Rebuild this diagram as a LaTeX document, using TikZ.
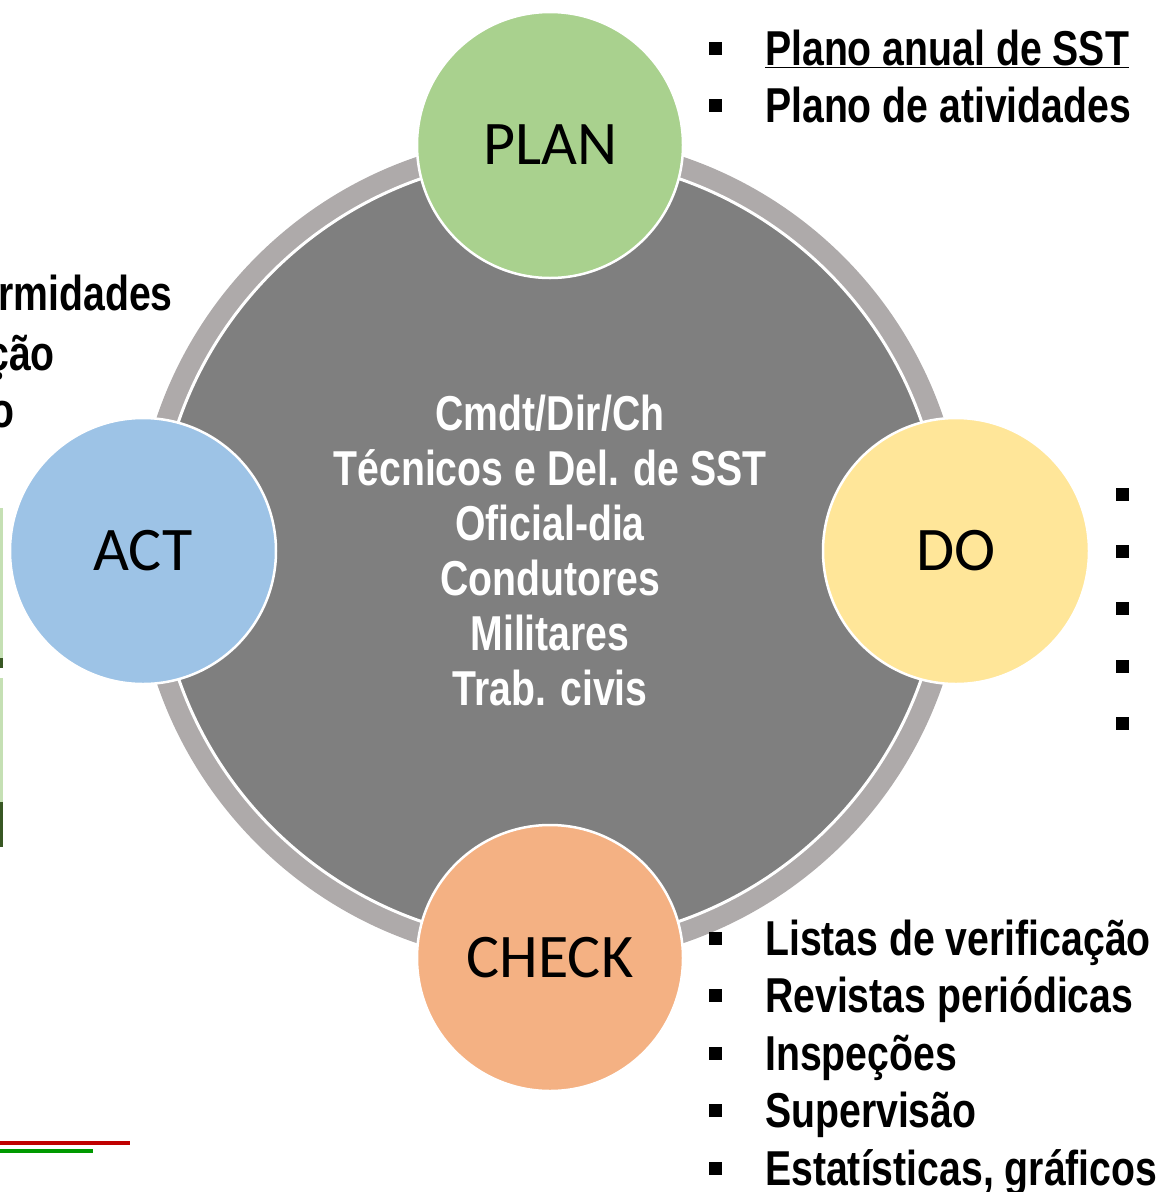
\documentclass[tikz,border=0pt]{standalone}
\usepackage{fontspec}
\setmainfont{Liberation Sans}
\newfontfamily\narrowfont[FakeStretch=0.8]{Liberation Sans}
\newfontfamily\stagefont{Carlito}
\usetikzlibrary{positioning}

\definecolor{ringgray}{HTML}{AEAAAA}
\definecolor{hubgray}{HTML}{7F7F7F}
\definecolor{plangreen}{HTML}{A9D18E}
\definecolor{doyellow}{HTML}{FFE699}
\definecolor{checkorange}{HTML}{F4B183}
\definecolor{actblue}{HTML}{9DC3E6}
\definecolor{barlight}{HTML}{C5E0B4}
\definecolor{bardark}{HTML}{385723}
\definecolor{linered}{HTML}{C00000}
\definecolor{linegreen}{HTML}{009900}

\tikzset{
  stage/.style={circle, draw=white, line width=2.5pt, minimum size=266pt, inner sep=0pt,
    font=\stagefont\fontsize{62}{62}\selectfont},
  listitem/.style={anchor=base west, inner sep=0pt,
    font=\narrowfont\bfseries\fontsize{49}{57}\selectfont},
  sqbullet/.style={rectangle, fill=black, minimum size=13pt, inner sep=0pt},
}
\newcommand{\sqb}{\makebox[56pt][l]{\raisebox{10pt}{\rule{13pt}{13pt}}}}

\begin{document}
\begin{tikzpicture}[x=1pt, y=-1pt]
        \useasboundingbox (0,0) rectangle (1162,1192);
        \clip (0,0) rectangle (1162,1192);

        % Ring and centre
        \node[circle, fill=ringgray, minimum size=830pt, inner sep=0pt] (ring) at (550,550) {};
        \node[circle, fill=hubgray, draw=white, line width=3pt, minimum size=786pt, inner sep=0pt,
              text=white, align=center, font=\narrowfont\bfseries\fontsize{49}{55}\selectfont] (hub) at (550,550)
              {Cmdt/Dir/Ch\\Técnicos e Del. de SST\\Oficial-dia\\Condutores\\Militares\\Trab. civis};

        % Stages
        \node[stage, fill=plangreen] (plan) at (550,145) {PLAN};
        \node[stage, fill=doyellow] (do) at (956,551) {DO};
        \node[stage, fill=checkorange] (check) at (550,958) {CHECK};
        \node[stage, fill=actblue] (act) at (143,551) {ACT};

        % PLAN list
        \node[listitem] (plan1) at (709,65) {\sqb\underline{Plano anual de SST}};
        \node[listitem] (plan2) at (709,122) {\sqb Plano de atividades};

        % DO list
        \node[sqbullet] (do1) at (1122.5,494) {};
        \node[sqbullet] (do2) at (1122.5,551) {};
        \node[sqbullet] (do3) at (1122.5,608) {};
        \node[sqbullet] (do4) at (1122.5,666) {};
        \node[sqbullet] (do5) at (1122.5,723) {};

        % CHECK list
        \node[listitem] (check1) at (709,955) {\sqb Listas de verificação};
        \node[listitem] (check2) at (709,1012) {\sqb Revistas periódicas};
        \node[listitem] (check3) at (709,1070) {\sqb Inspeções};
        \node[listitem] (check4) at (709,1127) {\sqb Supervisão};
        \node[listitem] (check5) at (709,1185) {\sqb Estatísticas, gráficos};

        % ACT list
        \node[listitem, anchor=base east] (act1) at (173,310) {rmidades};
        \node[listitem, anchor=base east] (act2) at (55,370) {ção};
        \node[listitem, anchor=base east] (act3) at (15,427) {o};

        % edge bits
        \fill[barlight] (0,508) rectangle (2.5,658);
        \fill[bardark] (0,658) rectangle (2.5,668);
        \fill[barlight] (0,678) rectangle (2.5,802);
        \fill[bardark] (0,802) rectangle (2.5,847);
        \fill[linered] (0,1141) rectangle (130,1145);
        \fill[linegreen] (0,1149) rectangle (93,1153);
\end{tikzpicture}
\end{document}
